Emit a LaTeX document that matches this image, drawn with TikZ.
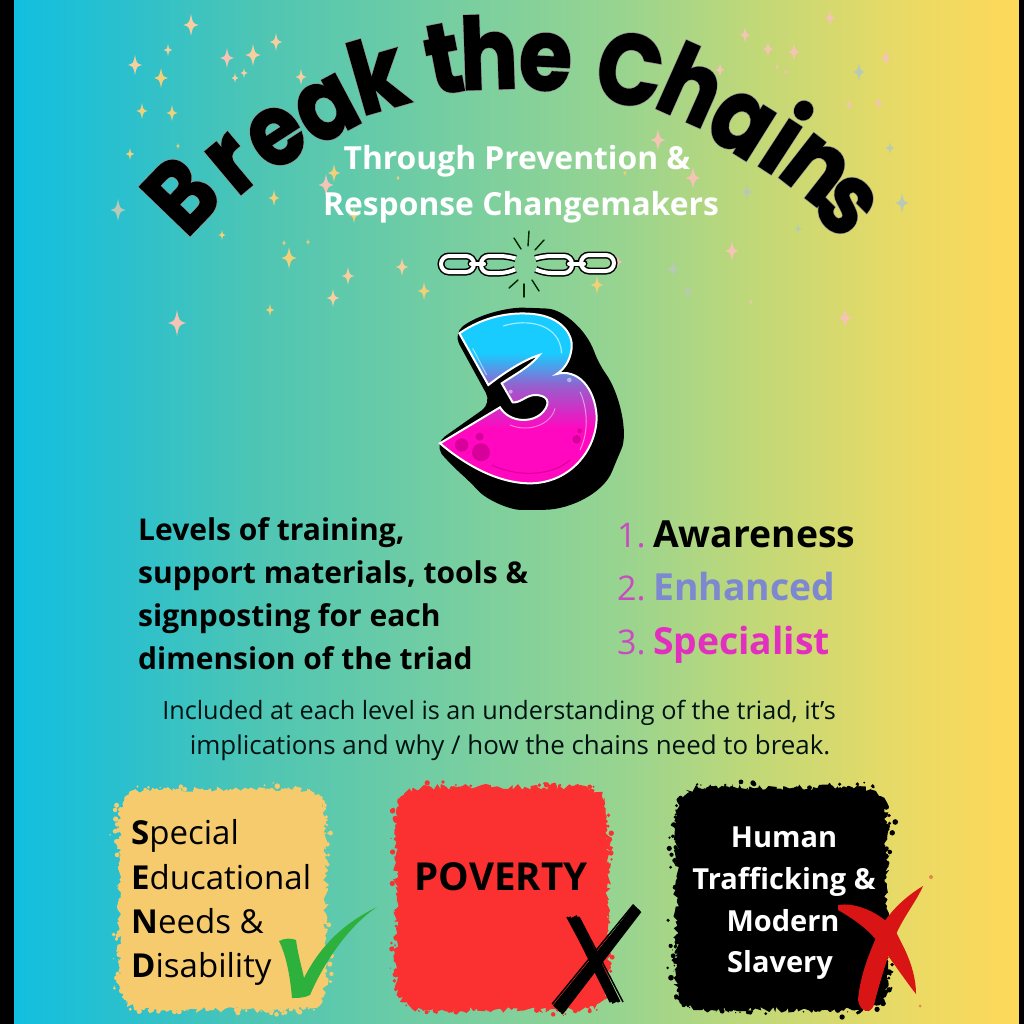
\documentclass[tikz,border=0pt]{standalone}
\usepackage{fontspec}
\usetikzlibrary{decorations.pathmorphing}
\setmainfont{Open Sans}
\newfontfamily\ttlfont[BoldFeatures={FakeBold=1.4}]{Poppins}
\newfontfamily\ttlback[BoldFeatures={FakeBold=2.8}]{Poppins}
\definecolor{bga}{HTML}{12BFE0}\definecolor{bgb}{HTML}{2CC0CC}\definecolor{bgc}{HTML}{4CC5B5}
\definecolor{bgd}{HTML}{80D09C}\definecolor{bge}{HTML}{98D490}\definecolor{bgf}{HTML}{C0D878}
\definecolor{bgg}{HTML}{E8DA66}\definecolor{bgh}{HTML}{FBD95A}
\definecolor{peach}{HTML}{F6CFA0}\definecolor{rosy}{HTML}{F4C4B4}\definecolor{greyish}{HTML}{B9C9B8}
\definecolor{yel}{HTML}{F0D078}
\definecolor{cyn}{HTML}{18CCFF}\definecolor{prp}{HTML}{9A5CCC}\definecolor{mgn}{HTML}{FF08C0}
\definecolor{sand}{HTML}{F5CB6E}\definecolor{redb}{HTML}{FB3030}
\definecolor{tick}{HTML}{2DB13C}\definecolor{redx}{HTML}{D81414}
\definecolor{numc}{HTML}{C84CC0}\definecolor{enh}{HTML}{7D88D0}\definecolor{spec}{HTML}{E22FC0}
\definecolor{dkm}{HTML}{D8009A}
\pgfdeclarehorizontalshading{bgshade}{100bp}{color(0bp)=(bga);color(25bp)=(bga);color(30.8bp)=(bgb);color(36.75bp)=(bgc);color(49.2bp)=(bgd);color(55.2bp)=(bge);color(61.7bp)=(bgf);color(69bp)=(bgg);color(74bp)=(bgh);color(100bp)=(bgh)}
\pgfdeclareverticalshading{threeshade}{100bp}{color(0bp)=(mgn);color(25bp)=(mgn);color(41bp)=(mgn);color(53bp)=(prp);color(63bp)=(cyn);color(100bp)=(cyn)}
\tikzset{
 spark/.pic={\fill (0,-1) .. controls (.16,-.16) .. (.7,0) .. controls (.16,.16) .. (0,1) .. controls (-.16,.16) .. (-.7,0) .. controls (-.16,-.16) .. cycle;},
 txt/.style={inner sep=0pt,anchor=base west},
 ctxt/.style={inner sep=0pt,anchor=base},
 lead/.style={txt,font=\fontsize{30}{30}\selectfont\bfseries},
 num/.style={txt,font=\fontsize{34}{34}\selectfont,text=numc},
 lvl/.style={txt,font=\fontsize{37.3}{37.3}\selectfont\bfseries},
 sen/.style={txt,font=\fontsize{33}{33}\selectfont},
 htm/.style={ctxt,font=\fontsize{29}{29}\selectfont\bfseries,text=white},
 sub/.style={ctxt,font=\fontsize{31.8}{31.8}\selectfont\bfseries,text=white},
 rough/.style={decorate,decoration={random steps,segment length=3pt,amplitude=#1}},
 link/.style={line width=7pt,black,line cap=round},
 linkw/.style={line width=4pt,white,line cap=round},
 ray/.style={line width=1.4pt,black!85!green,line cap=round},
}
\newcommand{\blobpath}[4]{(#1+35,#2) -- (#3-35,#2) .. controls (#3-8,#2) and (#3,#2+8) .. (#3,#2+35) -- (#3,#4-35) .. controls (#3,#4-8) and (#3-8,#4) .. (#3-35,#4) -- (#1+35,#4) .. controls (#1+8,#4) and (#1,#4-8) .. (#1,#4-35) -- (#1,#2+35) .. controls (#1,#2+8) and (#1+8,#2) .. (#1+35,#2)}
\newcommand{\speckle}[5]{%
  \foreach \k in {1,...,700}{%
    \pgfmathsetmacro\aa{rnd*360}%
    \pgfmathsetmacro\oo{-9+rnd*rnd*15}%
    \pgfmathsetmacro\px{#1+(#3+\oo)*(cos(\aa)<0?-1:1)*pow(abs(cos(\aa))+0.001,0.35)}%
    \pgfmathsetmacro\py{#2+(#4+\oo)*(sin(\aa)<0?-1:1)*pow(abs(sin(\aa))+0.001,0.35)}%
    \pgfmathsetmacro\rr{0.6+rnd*2.2}%
    \fill[#5] (\px,\py) circle (\rr);
  }}
\newcommand{\threepath}{(118,340) .. controls (190,290) and (270,275) .. (340,282) .. controls (420,290) and (460,340) .. (455,385) .. controls (450,425) and (430,450) .. (410,462) .. controls (470,445) and (525,500) .. (530,590) .. controls (530,690) and (450,790) .. (330,790) .. controls (230,790) and (130,730) .. (60,670) -- (240,562) .. controls (270,610) and (340,610) .. (370,575) .. controls (395,545) and (380,525) .. (345,525) .. controls (320,525) and (300,550) .. (278,547) -- (245,490) .. controls (290,460) and (330,440) .. (358,405) .. controls (310,420) and (250,460) .. (205,495) -- cycle}
\newcommand{\titleletters}{1/B/206/219/46,2/r/251/186/40,3/e/292/160/33,4/a/340/134/28,5/k/387/109/16,6/t/450/93/11,7/h/490/89/2,8/e/544/90/-3,9/C/624/104/-10,10/h/678/118/-24,11/a/726/148/-32,12/i/765/170/-33,13/n/798/192/-38,14/s/826/225/-45}
\begin{document}
\begin{tikzpicture}[x=1pt,y=-1pt]
\pgfmathsetseed{7}
\useasboundingbox (0,0) rectangle (1024,1024);
\shade[shading=bgshade] (14,0) rectangle (1019,1024);
\fill[black] (0,0) rectangle (14,1024);
\fill[black] (1019,0) rectangle (1024,1024);
% sparkles
\foreach \x/\y/\s/\c in {191/25/11/peach,276/42/9/peach,168/50/6/peach,253/55/11/peach,227/58/10/rosy,135/65/10/peach,244/73/5/peach,161/78/10/yel,235/78/5/peach,301/77/8/peach,142/111/8/yel,172/113/8/yel,178/146/3/yel,130/154/6/yel,334/173/9/yel,326/185/11/rosy,274/198/8/yel,118/210/11/greyish,354/215/8/yel,222/235/5/yel,284/243/3/yel,308/242/3/yel,289/258/11/yel,402/267/9/peach,348/276/9/peach,424/291/9/yel,333/298/9/peach,270/310/6/yel,177/323/13/rosy,830/18/8/rosy,745/35/8/rosy,768/49/8/rosy,794/52/9/rosy,886/58/8/rosy,859/72/9/greyish,720/70/7/rosy,777/67/3/rosy,786/72/3/rosy,849/105/5/rosy,879/103/6/rosy,890/148/6/greyish,658/140/11/rosy,693/178/11/rosy,747/192/8/greyish,902/203/10/greyish,798/229/5/greyish,732/251/10/rosy,673/269/8/greyish,688/292/7/greyish,751/302/3/rosy,845/318/10/rosy,597/285/9/yel,618/262/6/rosy,625/173/3/yel,398/178/2/yel}{
  \pic[\c,shift={(\x pt,-\y pt)},scale=\s] {spark};
}
% title
\foreach \i/\ch/\xx/\yy/\r in \titleletters{
  \node[inner sep=0pt,anchor=base,rotate=\r,xscale=.86,text=gray!85!white,font=\ttlback\fontsize{100}{100}\selectfont\bfseries] (back\i) at (\xx,\yy) {\ch};
}
\foreach \i/\ch/\xx/\yy/\r in \titleletters{
  \node[inner sep=0pt,anchor=base,rotate=\r,xscale=.86,text=black,font=\ttlfont\fontsize{100}{100}\selectfont\bfseries] (front\i) at (\xx,\yy) {\ch};
}
\node[sub] (sub1) at (517,170) {Through Prevention \&};
\node[sub] (sub2) at (521,215) {Response Changemakers};
% chain
\foreach \st in {link,linkw}{
  \draw[\st,rounded corners=8pt] (441,256) rectangle (474,272);
  \draw[\st,rounded corners=8pt] (514,258) -- (508,256) -- (481,256) -- (481,273) -- (508,273) -- (514,270);
  \draw[\st,rounded corners=8pt] (537,258) -- (543,256) -- (572,256) -- (572,273) -- (543,273) -- (537,270);
  \draw[\st,rounded corners=8pt] (581,255) rectangle (614,271);
  \draw[\st] (471,263.5) -- (484,263.5);
  \draw[\st] (569,263.5) -- (584,263.5);
}
\draw[ray] (529,231) -- (528,246);
\draw[ray] (514,238) -- (521,249);
\draw[ray] (544,240) -- (535,250);
\draw[ray] (509,288) -- (518,280);
\draw[ray] (524,297) -- (524,284);
\draw[ray] (539,291) -- (532,280);
% three
\begin{scope}[x=0.33333pt,y=-0.33333pt,shift={(420pt,-220pt)}]
  \fill[black,rounded corners=12pt] (100,340) .. controls (180,280) and (270,262) .. (345,264) .. controls (430,268) and (500,330) .. (535,430) .. controls (600,520) and (625,640) .. (590,720) .. controls (550,820) and (450,868) .. (340,870) .. controls (270,870) and (200,840) .. (150,785) .. controls (110,750) and (70,710) .. (45,670) -- (215,550) -- (190,505) -- cycle;
  \path[draw=white,line width=2pt,shading=threeshade] \threepath;
  \fill[dkm] (125,675) circle (20);
  \fill[dkm] (183,697) circle (27);
  \fill[dkm] (179,650) circle (12);
  \fill[dkm] (470,658) circle (13);
  \fill[dkm] (479,633) circle (7);
  \fill[white,opacity=.45] (448,480) circle (7);
  \fill[white,opacity=.45] (272,515) circle (6);
  \draw[white,opacity=.55,line width=1pt] (158,385) -- (200,465);
  \draw[white,opacity=.6,line width=1.2pt] (250,318) .. controls (320,295) and (420,310) .. (425,400);
  \draw[white,opacity=.45,line width=1pt] (270,615) .. controls (330,640) and (395,610) .. (405,565);
  \draw[white,opacity=.5,line width=1pt] (480,515) .. controls (505,570) and (505,640) .. (480,690);
  \draw[dkm,line width=1pt] (215,735) .. controls (300,775) and (400,765) .. (450,720);
\end{scope}
% text
\node[lead] (l1) at (138,540) {Levels of training,};
\node[lead] (l2) at (138,583) {support materials, tools \&};
\node[lead] (l3) at (138,626) {signposting for each};
\node[lead] (l4) at (138,669) {dimension of the triad};
\node[num] (n1) at (617,547) {1.};
\node[num] (n2) at (617,600) {2.};
\node[num] (n3) at (617,654) {3.};
\node[lvl,text=black] (w1) at (653,547) {Awareness};
\node[lvl,text=enh] (w2) at (653,600) {Enhanced};
\node[lvl,text=spec] (w3) at (653,654) {Specialist};
\node[ctxt,font=\fontsize{25.2}{25.2}\selectfont,text=black!85!teal] (b1) at (499,719) {Included at each level is an understanding of the triad, it’s};
\node[ctxt,font=\fontsize{25.9}{25.9}\selectfont,text=black!85!teal] (b2) at (510,754) {implications and why / how the chains need to break.};
% blobs
\speckle{222.5}{899.5}{108}{113}{sand}
\fill[sand,rough=3pt] \blobpath{119}{789}{326}{1010};
\speckle{502}{898.5}{109}{114}{redb}
\fill[redb,rough=3pt] \blobpath{396}{787}{608}{1010};
\speckle{781.5}{898.5}{110}{114}{black}
\fill[black,rough=3pt] \blobpath{676}{787}{887}{1010};
\node[sen] (s1) at (131,844) {\textbf{S}pecial};
\node[sen] (s2) at (131,889) {\textbf{E}ducational};
\node[sen] (s3) at (131,933) {\textbf{N}eeds \&};
\node[sen] (s4) at (131,977) {\textbf{D}isability};
\node[ctxt,font=\fontsize{38.5}{38.5}\selectfont\bfseries] (pov) at (501,890) {POVERTY};
\node[htm] (h1) at (784,847) {Human};
\node[htm] (h2) at (784,889) {Trafficking \&};
\node[htm] (h3) at (783,931) {Modern};
\node[htm] (h4) at (780,972) {Slavery};
% tick
\fill[tick] (279,941) .. controls (285,938) and (291,938) .. (296,940) .. controls (298,955) and (302,968) .. (304,978) .. controls (318,950) and (340,925) .. (377,907) .. controls (350,925) and (325,960) .. (310,995) .. controls (304,998) and (298,998) .. (292,998) .. controls (290,975) and (286,955) .. (279,941) -- cycle;
% black cross
\foreach \d/\e/\w in {0/0/8,-4/-2/3,4/3/4,7/5/2,-7/-5/1.5,2/-4/2}{
  \draw[black,line width=\w pt] (557+\d*.7,1009+\d*.7) -- (637+\e*.7,908+\e*.7);
}
\foreach \d/\e/\w in {0/0/8,-4/-5/3,4/3/3,6/7/1.5,-6/-3/1.5}{
  \draw[black,line width=\w pt] (573+\d,917) -- (616+\e,1002);
}
% red cross
\fill[redx] (838,905) .. controls (855,902) and (880,912) .. (895,930) -- (905,950) .. controls (912,965) and (916,980) .. (916,994) .. controls (905,980) and (893,962) .. (880,945) .. controls (870,930) and (852,918) .. (838,910) -- cycle;
\fill[redx] (923,886) .. controls (917,900) and (905,915) .. (897,932) .. controls (890,950) and (880,980) .. (874,1005) .. controls (870,1015) and (860,1012) .. (858,1000) .. controls (860,975) and (870,950) .. (882,925) .. controls (893,908) and (908,895) .. (923,886) -- cycle;
\fill[redx!40!yel] (931,877) circle (2);
\fill[redx!40!yel] (920,1006) circle (1.5);
\end{tikzpicture}
\end{document}
